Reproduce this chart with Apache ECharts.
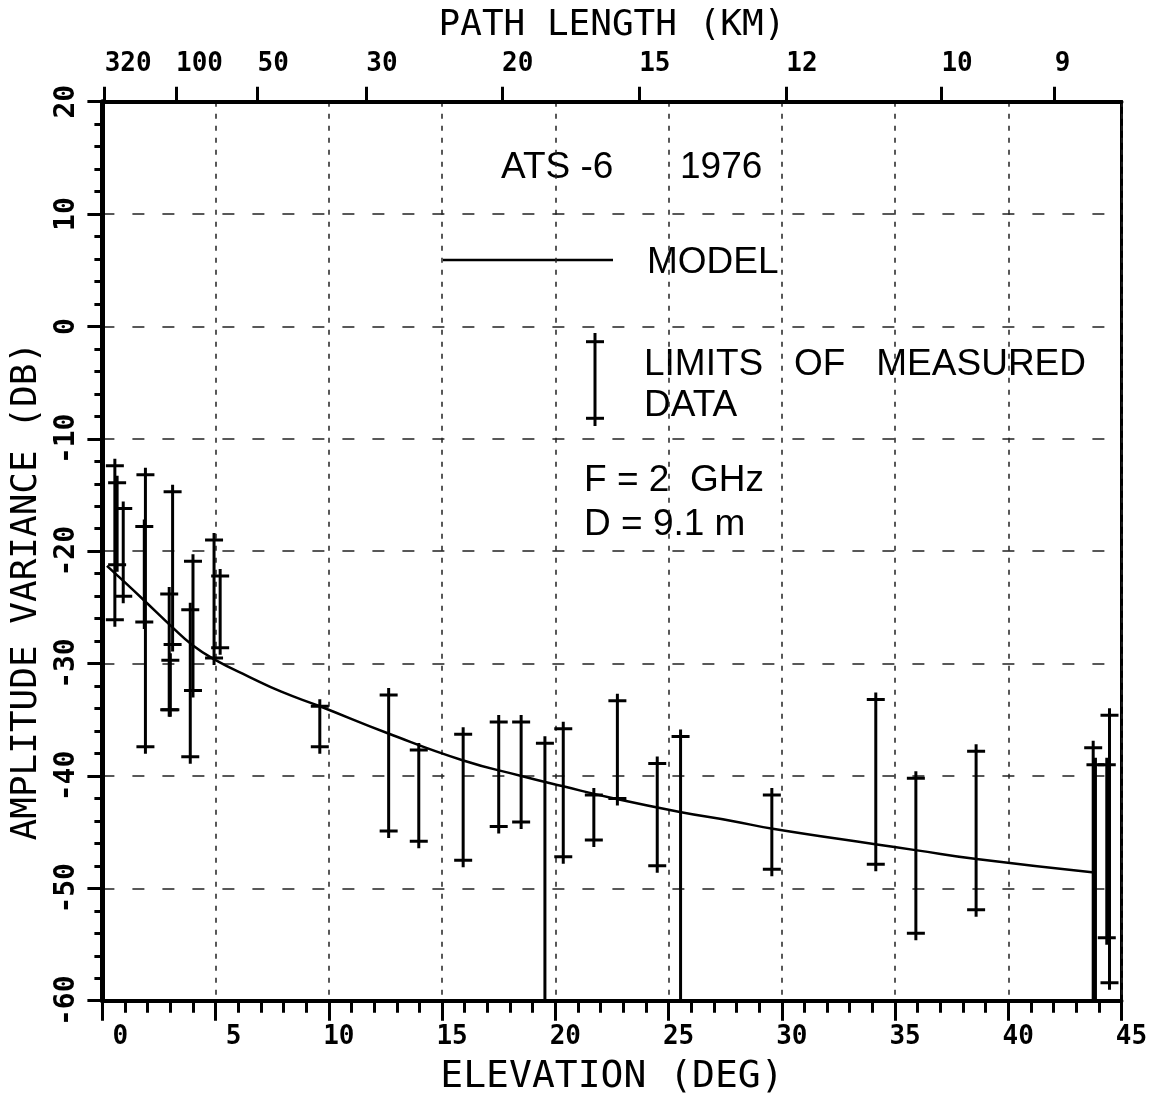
<!DOCTYPE html>
<html>
<head>
<meta charset="utf-8">
<title>ATS-6 1976 amplitude variance</title>
<script src="https://cdn.jsdelivr.net/npm/echarts@6.0.0/dist/echarts.min.js"></script>
<style>
html, body { margin: 0; padding: 0; background: #fff; }
#chart { width: 1155px; height: 1095px; }
</style>
</head>
<body>
<div id="chart"></div>
<script>
var plotFont = 'DejaVu Sans Mono';
var textFont = 'Liberation Sans';

// limits of measured data: elevation (deg), upper / lower limit (dB)
// -62 means the bar runs off the bottom of the plot
var barElev = [0.55, 0.65, 0.92, 1.9, 1.85, 3.1, 2.95, 3.0, 4.0, 3.88, 4.93, 5.2,
	9.6, 12.64, 13.97, 15.93, 17.5, 18.49, 19.54, 20.35, 21.7, 22.74, 24.5, 25.53,
	29.56, 34.15, 35.92, 38.58, 43.75, 43.85, 44.47, 44.35];
var barHigh = [-12.4, -13.9, -16.2, -13.2, -17.8, -14.7, -23.8, -29.7, -20.9, -25.2, -19.0, -22.2,
	-33.8, -32.8, -37.7, -36.3, -35.2, -35.2, -37.1, -35.8, -41.7, -33.3, -38.9, -36.5,
	-41.7, -33.2, -40.2, -37.8, -37.5, -39.0, -34.6, -39.0];
var barLow = [-26.1, -21.2, -24.0, -37.4, -26.3, -28.3, -34.1, -34.1, -32.4, -38.3, -29.5, -28.6,
	-37.4, -44.9, -45.8, -47.5, -44.5, -44.1, -62, -47.2, -45.7, -42.0, -48.0, -62,
	-48.3, -47.85, -54.0, -51.9, -62, -62, -58.4, -54.4];

// model curve
var modelElev = [0.2, 0.9, 1.8, 3.0, 4.0, 5.0, 6.5, 7.9, 9.6, 12.6, 15.9, 18.5, 20.3,
	22.6, 25.5, 27.8, 29.6, 34.2, 35.9, 38.6, 43.8];
var modelDb = [-21.3, -22.6, -24.3, -26.6, -28.4, -29.7, -31.2, -32.5, -33.8, -36.2, -38.6, -40.0, -40.9,
	-42.0, -43.2, -44.0, -44.7, -46.1, -46.6, -47.4, -48.6];

// top axis: path length (km) at elevation
var pathTickElev = [0.1, 3.25, 6.85, 11.65, 17.65, 23.7, 30.2, 37.05, 42.05];
var pathTickLabels = ['320', '100', '50', '30', '20', '15', '12', '10', '9'];

var barData = [];
for (var i = 0; i < barElev.length; i++) {
	barData.push([barElev[i], barHigh[i], barLow[i]]);
}
var modelData = [];
for (var j = 0; j < modelElev.length; j++) {
	modelData.push([modelElev[j], modelDb[j]]);
}

function renderBar(params, api) {
	var top = api.coord([api.value(0), api.value(1)]);
	var bot = api.coord([api.value(0), api.value(2)]);
	var half = 9, ext = 7;
	var st = { stroke: '#000', lineWidth: 3 };
	return {
		type: 'group',
		children: [
			{ type: 'line', shape: { x1: top[0], y1: top[1] - ext, x2: bot[0], y2: bot[1] + ext }, style: st },
			{ type: 'line', shape: { x1: top[0] - half, y1: top[1], x2: top[0] + half, y2: top[1] }, style: st },
			{ type: 'line', shape: { x1: bot[0] - half, y1: bot[1], x2: bot[0] + half, y2: bot[1] }, style: st }
		]
	};
}

// note text in the plot
function note(x, y, text) {
	return {
		type: 'text',
		style: { x: x, y: y, text: text, font: '37px ' + textFont, fill: '#000', textVerticalAlign: 'middle' }
	};
}

var chart = echarts.init(document.getElementById('chart'));

var labelStyle = {
	fontFamily: plotFont,
	fontWeight: 'bold',
	fontSize: 26,
	color: '#000'
};
var nameStyle = {
	fontFamily: plotFont,
	fontSize: 36,
	color: '#000'
};

var option = {
	animation: false,
	backgroundColor: '#fff',
	grid: {
		left: 102.4,
		right: 33.5,
		top: 101.7,
		bottom: 94.3,
		show: true,
		borderColor: '#000',
		borderWidth: 3,
		backgroundColor: 'transparent',
		outerBoundsMode: 'none'
	},
	xAxis: [{
		type: 'value',
		position: 'bottom',
		min: 0,
		max: 45,
		interval: 5,
		name: 'ELEVATION (DEG)',
		nameLocation: 'middle',
		nameGap: 57,
		nameTextStyle: Object.assign({}, nameStyle, { fontSize: 38 }),
		axisLine: { show: true, onZero: false, lineStyle: { color: '#000', width: 4 } },
		axisTick: { show: true, length: 20, lineStyle: { color: '#000', width: 3 } },
		minorTick: { show: true, splitNumber: 5, length: 12, lineStyle: { color: '#000', width: 3 } },
		axisLabel: Object.assign({
			margin: 24,
			padding: [0, 0, 0, 20],
			formatter: function (v) { return v < 10 ? ' ' + v : '' + v; }
		}, labelStyle),
		splitLine: { show: true, lineStyle: { color: '#222', width: 1.5, type: [5, 7] } }
	}, {
		type: 'value',
		position: 'top',
		min: 0,
		max: 45,
		name: 'PATH LENGTH (KM)',
		nameLocation: 'middle',
		nameGap: 58,
		nameTextStyle: nameStyle,
		axisLine: { show: true, onZero: false, lineStyle: { color: '#000', width: 4 } },
		axisTick: { show: true, length: 15, customValues: pathTickElev, lineStyle: { color: '#000', width: 3 } },
		axisLabel: Object.assign({
			margin: 24,
			align: 'left',
			customValues: pathTickElev,
			formatter: function (v) {
				var best = 0;
				for (var k = 1; k < pathTickElev.length; k++) {
					if (Math.abs(pathTickElev[k] - v) < Math.abs(pathTickElev[best] - v)) best = k;
				}
				return pathTickLabels[best];
			}
		}, labelStyle),
		splitLine: { show: false }
	}],
	yAxis: {
		type: 'value',
		min: -60,
		max: 20,
		interval: 10,
		name: 'AMPLITUDE VARIANCE (DB)',
		nameLocation: 'middle',
		nameGap: 54,
		nameTextStyle: Object.assign({ padding: [0, 80, 0, 0] }, nameStyle),
		axisLine: { show: true, onZero: false, lineStyle: { color: '#000', width: 5 } },
		axisTick: { show: true, length: 15, lineStyle: { color: '#000', width: 3 } },
		minorTick: { show: true, splitNumber: 5, length: 8, lineStyle: { color: '#000', width: 3 } },
		axisLabel: Object.assign({ margin: 22, rotate: 90 }, labelStyle, { fontSize: 28 }),
		splitLine: { show: true, lineStyle: { color: '#222', width: 1.5, type: [12, 18] } }
	},
	series: [{
		name: 'MODEL',
		type: 'line',
		data: modelData,
		smooth: true,
		showSymbol: false,
		symbol: 'none',
		lineStyle: { color: '#000', width: 2.5 },
		z: 3
	}, {
		name: 'LIMITS OF MEASURED DATA',
		type: 'custom',
		data: barData,
		renderItem: renderBar,
		clip: true,
		z: 4
	}],
	graphic: [
		note(501, 168, 'ATS -6'),
		note(680, 168, '1976'),
		{ type: 'line', shape: { x1: 443, y1: 260, x2: 613, y2: 260 }, style: { stroke: '#000', lineWidth: 2.5 } },
		note(647, 263, 'MODEL'),
		{ type: 'line', shape: { x1: 595, y1: 333, x2: 595, y2: 426 }, style: { stroke: '#000', lineWidth: 3 } },
		{ type: 'line', shape: { x1: 586, y1: 341.7, x2: 604, y2: 341.7 }, style: { stroke: '#000', lineWidth: 3 } },
		{ type: 'line', shape: { x1: 586, y1: 418.3, x2: 604, y2: 418.3 }, style: { stroke: '#000', lineWidth: 3 } },
		note(644, 365, 'LIMITS   OF   MEASURED'),
		note(644, 406, 'DATA'),
		note(584, 481, 'F = 2  GHz'),
		note(584, 525, 'D = 9.1 m')
	]
};
chart.setOption(option);
</script>
</body>
</html>
